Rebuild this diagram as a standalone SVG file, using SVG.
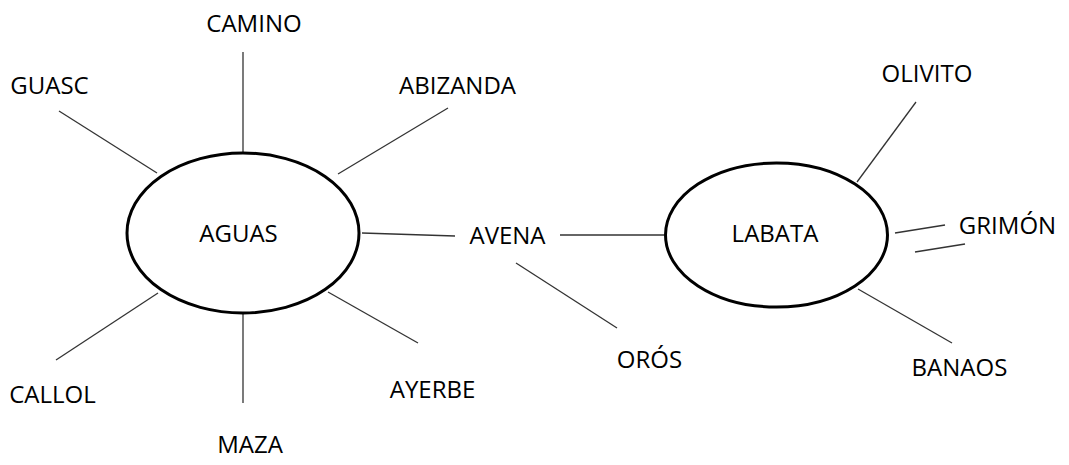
<svg xmlns="http://www.w3.org/2000/svg" width="1069" height="465" viewBox="0 0 1069 465">
<style>
.bg{fill:#ffffff}
.node ellipse{fill:#ffffff;stroke:#000000;stroke-width:3}
text{font-family:"Open Sans","Noto Sans","Liberation Sans",sans-serif;font-size:24px;fill:#000000;text-anchor:middle}
#connectors line{stroke:#333333;stroke-width:1.3;fill:none}
</style>
<rect class="bg" x="0" y="0" width="1069" height="465"/>
<g id="connectors">
<line x1="243" y1="52" x2="243" y2="152"/>
<line x1="59" y1="111" x2="157" y2="173"/>
<line x1="448" y1="108" x2="338" y2="174"/>
<line x1="158" y1="293" x2="56" y2="360"/>
<line x1="243" y1="314" x2="243" y2="403"/>
<line x1="328" y1="292" x2="418" y2="343"/>
<line x1="362" y1="233" x2="455" y2="236"/>
<line x1="560" y1="235" x2="664" y2="235"/>
<line x1="516" y1="263" x2="617" y2="328"/>
<line x1="916" y1="102" x2="857" y2="182"/>
<line x1="895" y1="233" x2="945" y2="225"/>
<line x1="915" y1="252" x2="965" y2="244"/>
<line x1="858" y1="289" x2="952" y2="343"/>
</g>
<g id="node-aguas" class="node">
<ellipse cx="243" cy="233" rx="116" ry="80"/>
<text x="238.5" y="242">AGUAS</text>
</g>
<g id="node-labata" class="node">
<ellipse cx="776.5" cy="235" rx="111" ry="72"/>
<text x="775" y="242">LABATA</text>
</g>
<g id="node-camino"><text x="254" y="32">CAMINO</text></g>
<g id="node-guasc"><text x="49.5" y="94">GUASC</text></g>
<g id="node-abizanda"><text x="457.5" y="94">ABIZANDA</text></g>
<g id="node-callol"><text x="52.5" y="403">CALLOL</text></g>
<g id="node-maza"><text x="250" y="453">MAZA</text></g>
<g id="node-ayerbe"><text x="432.5" y="398">AYERBE</text></g>
<g id="node-avena"><text x="507.5" y="244">AVENA</text></g>
<g id="node-oros"><text x="649.5" y="368">ORÓS</text></g>
<g id="node-olivito"><text x="927" y="82">OLIVITO</text></g>
<g id="node-grimon"><text x="1007.5" y="234">GRIMÓN</text></g>
<g id="node-banaos"><text x="959.5" y="376">BANAOS</text></g>
</svg>
